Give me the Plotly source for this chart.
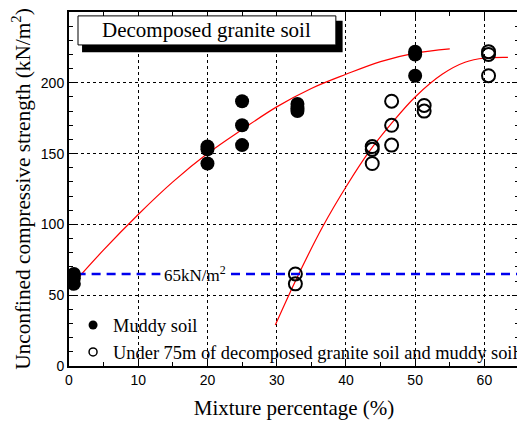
import plotly.graph_objects as go

# ---- data ----
muddy_x = [0.7, 0.7, 0.7, 20, 20, 20, 25, 25, 25, 33, 33, 33, 50, 50, 50]
muddy_y = [65, 62, 58, 155, 153, 143, 187, 170, 156, 185, 182, 180, 222, 220, 205]

mixed_x = [32.7, 32.7, 43.8, 43.8, 43.8, 46.6, 46.6, 46.6, 51.3, 51.3, 60.6, 60.6, 60.6]
mixed_y = [65, 58, 155, 153, 143, 187, 170, 156, 184, 180, 222, 220, 205]

curve1_x = [0, 5, 10, 15, 20, 25, 30, 35, 40, 45, 50, 55]
curve1_y = [55, 82, 107, 130, 150, 167, 183, 196, 206, 215, 221, 224]

curve2_x = [29.8, 33.0, 36.6, 40.2, 43.3, 46.7, 50.0, 53.9, 57.2, 60.1, 63.4]
curve2_y = [28.9, 63, 98, 128, 151, 172, 190, 206, 214.5, 217.5, 218]

threshold_value = 65
threshold_x = [1.1, 13.2, None, 23.4, 65]
threshold_y = [threshold_value, threshold_value, None, threshold_value, threshold_value]

x_ticks = [0, 10, 20, 30, 40, 50, 60]
y_ticks = [0, 50, 100, 150, 200, 250]

SERIF = "Liberation Serif, Times New Roman, serif"
SANS = "Liberation Sans, Arial, sans-serif"

fig = go.Figure()

fig.add_trace(go.Scatter(x=curve1_x, y=curve1_y, mode="lines", line=dict(color="red", width=1.2, shape="spline"),
                         showlegend=False, hoverinfo="skip"))
fig.add_trace(go.Scatter(x=curve2_x, y=curve2_y, mode="lines", line=dict(color="red", width=1.2, shape="spline"),
                         showlegend=False, hoverinfo="skip"))
fig.add_trace(go.Scatter(x=threshold_x, y=threshold_y, mode="lines",
                         line=dict(color="#0000ee", width=2.6, dash="9px,6px"),
                         showlegend=False, hoverinfo="skip", connectgaps=False))

fig.add_trace(go.Scatter(x=muddy_x, y=muddy_y, mode="markers",
                         marker=dict(symbol="circle", size=14, color="black"),
                         showlegend=False))
fig.add_trace(go.Scatter(x=mixed_x, y=mixed_y, mode="markers",
                         marker=dict(symbol="circle-open", size=13, color="black", line=dict(width=2)),
                         showlegend=False))

# legend entries
fig.add_trace(go.Scatter(x=[None], y=[None], mode="markers", name="Muddy soil",
                         marker=dict(symbol="circle", size=9, color="black")))
fig.add_trace(go.Scatter(x=[None], y=[None], mode="markers",
                         name="Under 75m of decomposed granite soil and muddy soil",
                         marker=dict(symbol="circle-open", size=8, color="black", line=dict(width=1.5))))

axis_common = dict(
    showline=True, linecolor="black", linewidth=2, mirror="ticks",
    ticks="inside", ticklen=7, tickwidth=1, tickcolor="black",
    showgrid=True, gridcolor="black", gridwidth=1, griddash="dot",
    zeroline=False,
    tickfont=dict(family=SANS, size=14, color="black"),
)

fig.update_xaxes(range=[0, 65], tickvals=x_ticks, tickangle=0,
                 minor=dict(dtick=5, tick0=0, ticks="inside", ticklen=4, tickcolor="black", showgrid=False),
                 title=dict(text="Mixture percentage (%)", font=dict(family=SERIF, size=21, color="black"), standoff=14),
                 **axis_common)
fig.update_yaxes(range=[0, 250], tickvals=y_ticks,
                 minor=dict(dtick=10, tick0=0, ticks="inside", ticklen=4, tickcolor="black", showgrid=False),
                 title=dict(text="Unconfined compressive strength (kN/m<sup>2</sup>)",
                            font=dict(family=SERIF, size=21.3, color="black"), standoff=4),
                 **axis_common)

# title box with shadow
fig.add_shape(type="rect", xref="paper", yref="paper", x0=0.029, x1=0.608, y0=0.886, y1=0.975,
              fillcolor="black", line=dict(width=0), layer="above")
fig.add_shape(type="rect", xref="paper", yref="paper", x0=0.02, x1=0.593, y0=0.907, y1=0.989,
              fillcolor="white", line=dict(color="black", width=1), layer="above")
fig.add_annotation(xref="paper", yref="paper", x=0.3065, y=0.948, text="Decomposed granite soil",
                   showarrow=False, font=dict(family=SERIF, size=21, color="black"),
                   xanchor="center", yanchor="middle")

fig.add_annotation(x=18.2, y=threshold_value, text="65kN/m<sup>2</sup>", showarrow=False,
                   font=dict(family=SERIF, size=17, color="black"), xanchor="center", yanchor="middle")

# the page is drawn 8px in from the top-left corner, so the figure is sized to the visible area
fig.update_layout(
    width=517, height=413,
    margin=dict(l=61, r=6, t=4, b=55, autoexpand=False),
    paper_bgcolor="white", plot_bgcolor="white",
    legend=dict(x=0.009, y=0.168, xanchor="left", yanchor="top", bgcolor="rgba(0,0,0,0)",
                font=dict(family=SERIF, size=18.4, color="black"), tracegroupgap=0, itemwidth=30),
)

fig.write_html("out.html")
